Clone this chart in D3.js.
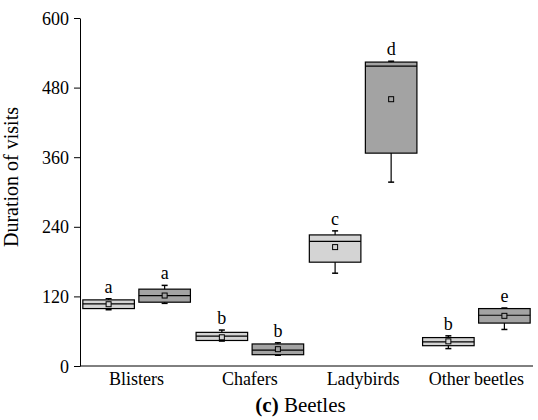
<!DOCTYPE html>
<html>
<head>
<meta charset="utf-8">
<script src="https://cdn.jsdelivr.net/npm/d3@7"></script>
<style>
  body { margin: 0; background: #fff; }
</style>
</head>
<body>
<script>
// categories and the two series (light / dark boxes)
var categories = ["Blisters", "Chafers", "Ladybirds", "Other beetles"];
var series = ["light", "dark"];
var yTicks = [0, 120, 240, 360, 480, 600];

// light boxes
var lightLow    = [97, 43, 160, 30];
var lightQ1     = [99, 44, 179, 35];
var lightMedian = [107, 51.5, 215, 41.5];
var lightQ3     = [114, 58, 226, 49];
var lightHigh   = [116, 62, 233, 52];
var lightMean   = [106.5, 49.5, 205, 42.5];
var lightLetter = ["a", "b", "c", "b"];

// dark boxes
var darkLow    = [108, 18.5, 317, 63];
var darkQ1     = [110, 19.5, 367, 74];
var darkMedian = [121.5, 27.5, 517, 87.5];
var darkQ3     = [132.5, 38, 524, 99];
var darkHigh   = [139, 40, 525.5, 100];
var darkMean   = [121.5, 29, 460, 86.5];
var darkLetter = ["a", "b", "d", "e"];

var FONT = "'Liberation Serif'";

var width = 538, height = 420;
var margin = {top: 18, right: 5, bottom: 54, left: 80};
var innerW = width - margin.left - margin.right,
    innerH = height - margin.top - margin.bottom;

var fills = {light: "#d4d4d4", dark: "#a3a3a3"};

var boxes = [];
categories.forEach(function(c, i) {
  boxes.push({cat: c, s: "light", low: lightLow[i], q1: lightQ1[i], med: lightMedian[i],
              q3: lightQ3[i], high: lightHigh[i], mean: lightMean[i], letter: lightLetter[i]});
  boxes.push({cat: c, s: "dark", low: darkLow[i], q1: darkQ1[i], med: darkMedian[i],
              q3: darkQ3[i], high: darkHigh[i], mean: darkMean[i], letter: darkLetter[i]});
});

var x0 = d3.scaleBand()
    .domain(categories)
    .range([0, innerW])
    .paddingInner(0.05)
    .paddingOuter(0.025);

var x1 = d3.scaleBand()
    .domain(series)
    .range([0, x0.bandwidth()])
    .paddingInner(0.08);

var y = d3.scaleLinear()
    .domain([0, 600])
    .range([innerH, 0]);

var svg = d3.select("body").append("svg")
    .attr("width", width)
    .attr("height", height)
  .append("g")
    .attr("transform", "translate(" + margin.left + "," + margin.top + ")");

// y axis
var yAxis = svg.append("g")
    .call(d3.axisLeft(y).tickValues(yTicks).tickSize(6).tickSizeOuter(0).tickPadding(5));
yAxis.selectAll("text").style("font-family", FONT).style("font-size", "18px").attr("dy", "0.34em");
yAxis.selectAll("line, path").attr("stroke", "#000");

// x axis line
svg.append("line")
    .attr("x1", 0).attr("x2", innerW)
    .attr("y1", innerH).attr("y2", innerH)
    .attr("stroke", "#000");

// category labels
svg.selectAll(".cat")
    .data(categories)
  .enter().append("text")
    .attr("class", "cat")
    .attr("x", function(d) { return x0(d) + x0.bandwidth() / 2; })
    .attr("y", innerH + 19)
    .attr("text-anchor", "middle")
    .style("font-family", FONT)
    .style("font-size", "18px")
    .text(function(d) { return d; });

// y title
svg.append("text")
    .attr("transform", "translate(" + (-62) + "," + (innerH / 2 - 15) + ") rotate(-90)")
    .attr("text-anchor", "middle")
    .style("font-family", FONT)
    .style("font-size", "20px")
    .text("Duration of visits");

// caption
var cap = svg.append("text")
    .attr("x", innerW / 2 - 6)
    .attr("y", innerH + 46)
    .attr("text-anchor", "middle")
    .style("font-family", FONT)
    .style("font-size", "21px");
cap.append("tspan").style("font-weight", "bold").text("(c)");
cap.append("tspan").text(" Beetles");

// boxes
var g = svg.selectAll(".box")
    .data(boxes)
  .enter().append("g")
    .attr("class", "box")
    .attr("transform", function(d) { return "translate(" + (x0(d.cat) + x1(d.s)) + ",0)"; });

var bw = x1.bandwidth(), cx = bw / 2, capW = 3;

g.append("line")
    .attr("x1", cx).attr("x2", cx)
    .attr("y1", function(d) { return y(d.high); })
    .attr("y2", function(d) { return y(d.low); })
    .attr("stroke", "#000").attr("stroke-width", 1.2);

g.selectAll(".capl")
    .data(function(d) { return [d.low, d.high]; })
  .enter().append("line")
    .attr("x1", cx - capW).attr("x2", cx + capW)
    .attr("y1", function(v) { return y(v); })
    .attr("y2", function(v) { return y(v); })
    .attr("stroke", "#000").attr("stroke-width", 1.5);

g.append("rect")
    .attr("x", 0)
    .attr("width", bw)
    .attr("y", function(d) { return y(d.q3); })
    .attr("height", function(d) { return y(d.q1) - y(d.q3); })
    .attr("fill", function(d) { return fills[d.s]; })
    .attr("stroke", "#000").attr("stroke-width", 1.2);

g.append("line")
    .attr("x1", 0).attr("x2", bw)
    .attr("y1", function(d) { return y(d.med); })
    .attr("y2", function(d) { return y(d.med); })
    .attr("stroke", "#000").attr("stroke-width", 1.2);

g.append("rect")
    .attr("x", cx - 2.5)
    .attr("y", function(d) { return y(d.mean) - 2.5; })
    .attr("width", 5).attr("height", 5)
    .attr("fill", function(d) { return fills[d.s]; })
    .attr("stroke", "#000").attr("stroke-width", 1);

g.append("text")
    .attr("x", cx)
    .attr("y", function(d) { return y(d.high) - 6; })
    .attr("text-anchor", "middle")
    .style("font-family", FONT)
    .style("font-size", "18px")
    .text(function(d) { return d.letter; });
</script>
</body>
</html>
